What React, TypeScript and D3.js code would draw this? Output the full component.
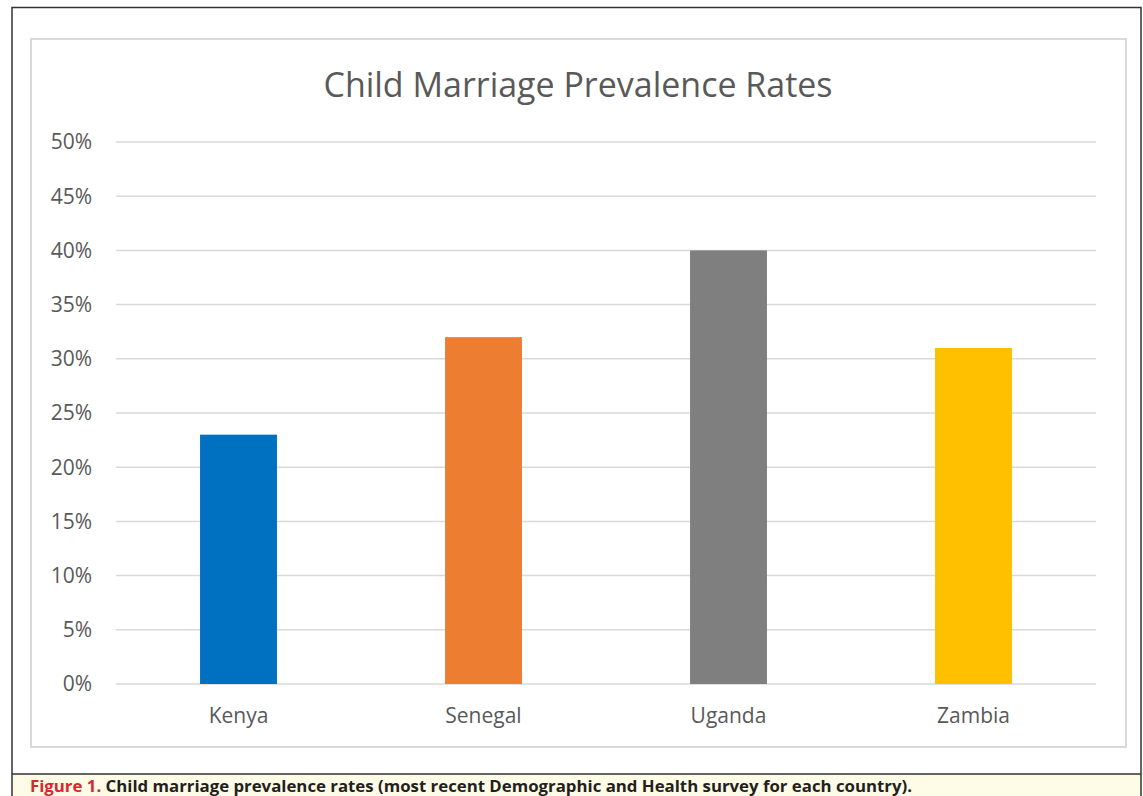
import React from "react";
import * as d3 from "d3";

const categories = ["Kenya", "Senegal", "Uganda", "Zambia"];
const values = [0.23, 0.32, 0.40, 0.31];
const colors = ["#0070C0", "#ED7D31", "#7F7F7F", "#FFC000"];
const yTicks = [0, 0.05, 0.1, 0.15, 0.2, 0.25, 0.3, 0.35, 0.4, 0.45, 0.5];
const title = "Child Marriage Prevalence Rates";
const captionLabel = "Figure 1.";
const captionText = "Child marriage prevalence rates (most recent Demographic and Health survey for each country).";

export default function App() {
  const W = 1143, H = 796;
  const x = d3.scaleBand<string>().domain(categories).range([116, 1096]).paddingInner(0.686).paddingOuter(0.343);
  const y = d3.scaleLinear().domain([0, 0.5]).range([684, 142]);
  const fmt = d3.format(".0%");
  const font = "'Open Sans', 'DejaVu Sans', sans-serif";
  return (
    <svg width={W} height={H} style={{ position: "absolute", left: 0, top: 0 }} fontFamily={font}>
      <rect x={0} y={0} width={W} height={H} fill="#fff" />
      {/* caption bar */}
      <rect x={12} y={774} width={1129} height={22} fill="#FEFBE7" />
      <line x1={12} x2={1141} y1={774} y2={774} stroke="#333" strokeWidth={1.5} />
      {/* outer border */}
      <path d={`M12,${H} V7.5 H1141 V${H}`} fill="none" stroke="#333" strokeWidth={1.5} />
      {/* chart frame */}
      <rect x={31} y={39} width={1095} height={708} fill="#fff" stroke="#D9D9D9" strokeWidth={2} />
      <text x={578} y={97} textAnchor="middle" fontSize={34} fill="#595959" textLength={509} lengthAdjust="spacingAndGlyphs">{title}</text>
      {yTicks.map((t) => (
        <g key={t}>
          <line x1={116} x2={1096} y1={y(t)} y2={y(t)} stroke="#D9D9D9" strokeWidth={1.5} />
          <text x={92} y={y(t)} dy="0.35em" textAnchor="end" fontSize={21} fill="#595959">{fmt(t)}</text>
        </g>
      ))}
      {categories.map((c, i) => (
        <g key={c}>
          <rect x={x(c)} y={y(values[i])} width={x.bandwidth()} height={y(0) - y(values[i])} fill={colors[i]} />
          <text x={(x(c) as number) + x.bandwidth() / 2} y={716} dy="0.35em" textAnchor="middle" fontSize={21} fill="#595959">{c}</text>
        </g>
      ))}
      <text x={30} y={792} fontSize={16} fontWeight="bold" textLength={882} lengthAdjust="spacingAndGlyphs">
        <tspan fill="#D7282F">{captionLabel}</tspan>
        <tspan fill="#231F20">{"  " + captionText}</tspan>
      </text>
    </svg>
  );
}
